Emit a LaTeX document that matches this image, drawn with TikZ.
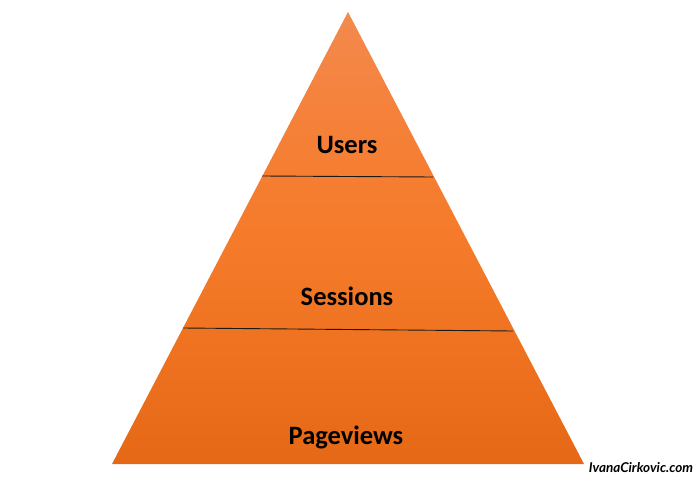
\documentclass[tikz,border=0pt]{standalone}
\usepackage{fontspec}
\setmainfont{Carlito}
\newfontfamily\wmfont{Lato}
\definecolor{pyrtop}{HTML}{F38A4E}
\definecolor{pyrup}{HTML}{F58038}
\definecolor{pyrmid}{HTML}{F57B2A}
\definecolor{pyrlow}{HTML}{EE7220}
\definecolor{pyrbot}{HTML}{E46816}
\definecolor{sepline}{HTML}{1A1A1A}
\pgfdeclareverticalshading{pyrshade}{100bp}{
  color(0bp)=(pyrbot); color(25bp)=(pyrbot); color(37.5bp)=(pyrlow);
  color(50bp)=(pyrmid); color(62.5bp)=(pyrup); color(75bp)=(pyrtop);
  color(100bp)=(pyrtop)}
\tikzset{
  level/.style={font=\bfseries\fontsize{26.5}{30}\selectfont, text=black, inner sep=0pt},
  sep/.style={draw=sepline, line width=0.9pt},
}
\begin{document}
\begin{tikzpicture}[x=1pt,y=1pt]
\useasboundingbox (0,0) rectangle (700,480);
\coordinate (apex) at (348,468);
\coordinate (bl) at (112,16);
\coordinate (br) at (584,16);
\shade[shading=pyrshade] (apex) -- (br) -- (bl) -- cycle;
\coordinate (l1a) at (262,304);
\coordinate (l1b) at (433,303);
\coordinate (l2a) at (183,152);
\coordinate (l2b) at (513,149);
\draw[sep] (l1a) -- (l1b);
\draw[sep] (l2a) -- (l2b);
\node[level] (users) at (347,335) {Users};
\node[level] (sessions) at (347,184) {Sessions};
\node[level] (pageviews) at (346,43) {Pageviews};
\node[font=\wmfont\itshape\bfseries\fontsize{13.5}{15}\selectfont, inner sep=0pt] (wm) at (641,12) {IvanaCirkovic.com};
\end{tikzpicture}
\end{document}
